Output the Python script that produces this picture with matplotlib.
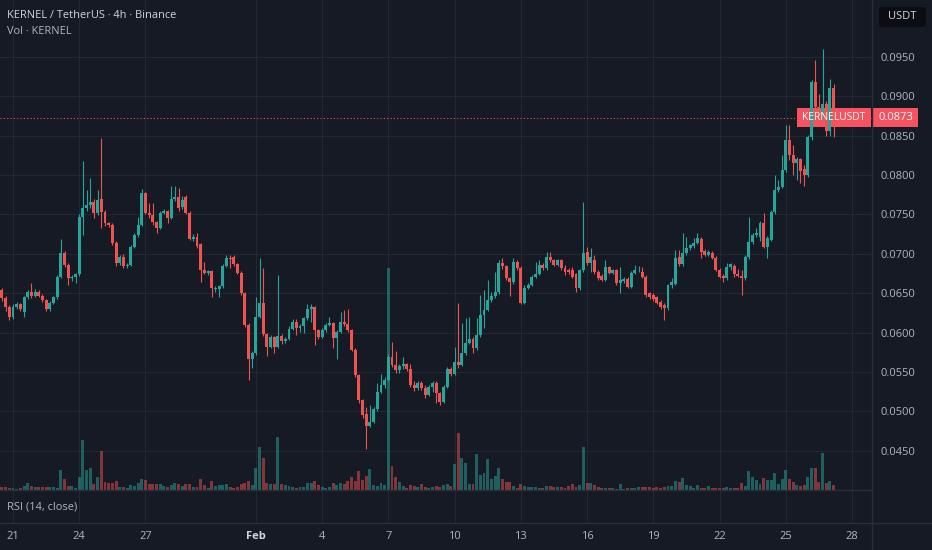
"""KERNEL / TetherUS 4h candlestick chart in TradingView dark style."""

import numpy as np
import pandas as pd
import matplotlib
matplotlib.use('Agg')
import matplotlib.pyplot as plt
import matplotlib.dates as mdates
from matplotlib.lines import Line2D
from matplotlib.patches import Rectangle, FancyBboxPatch
from matplotlib.transforms import blended_transform_factory

BG = '#161a25'
GRID = '#232733'
SEP = '#2a2e39'
UP = '#26a69a'
DOWN = '#ef5350'
LABEL_RED = '#f7525f'
TXT = '#d1d4dc'
MUTED = '#b2b5be'
FONT = 'Open Sans'

# prices in units of 0.0001 USDT, 4h candles starting 2026-01-20 12:00
OPEN = [
    654, 644, 633, 620, 633, 636, 626, 645, 652, 647,
    652, 647, 641, 630, 638, 645, 671, 701, 686, 669,
    670, 674, 747, 758, 762, 766, 752, 770, 753, 739,
    737, 714, 688, 696, 684, 686, 709, 724, 737, 777,
    752, 749, 740, 733, 752, 754, 746, 770, 772, 759,
    772, 752, 719, 721, 712, 680, 676, 678, 655, 655,
    659, 685, 695, 696, 687, 676, 650, 610, 566, 574,
    620, 638, 598, 582, 594, 582, 596, 589, 592, 605,
    614, 606, 608, 618, 630, 632, 603, 595, 603, 610,
    612, 593, 601, 614, 611, 603, 578, 546, 514, 496,
    482, 487, 503, 525, 533, 540, 569, 559, 552, 557,
    560, 554, 533, 529, 536, 529, 521, 531, 536, 523,
    512, 531, 554, 548, 563, 559, 574, 587, 592, 580,
    597, 622, 629, 641, 646, 651, 688, 684, 669, 664,
    690, 682, 638, 657, 661, 671, 675, 686, 682, 696,
    692, 686, 692, 682, 680, 680, 674, 656, 679, 702,
    688, 692, 677, 672, 667, 683, 676, 679, 663, 665,
    668, 658, 676, 679, 677, 671, 650, 648, 645, 639,
    635, 631, 660, 662, 696, 687, 701, 707, 710, 714,
    719, 704, 699, 701, 695, 680, 672, 669, 683, 684,
    675, 672, 669, 696, 715, 724, 722, 739, 709, 718,
    753, 781, 785, 806, 845, 826, 816, 820, 808, 800,
    848, 918, 886, 876, 890, 856, 911,
]
HIGH = [
    657, 646, 635, 636, 639, 638, 647, 654, 663, 655,
    654, 649, 643, 640, 647, 673, 719, 704, 688, 673,
    676, 750, 818, 781, 796, 770, 781, 847, 756, 741,
    739, 716, 699, 700, 689, 711, 727, 747, 782, 779,
    765, 765, 742, 755, 757, 756, 786, 786, 784, 773,
    775, 754, 725, 726, 714, 690, 680, 680, 659, 661,
    687, 699, 699, 698, 689, 678, 652, 612, 576, 645,
    695, 682, 600, 597, 596, 673, 598, 595, 608, 617,
    617, 611, 620, 636, 636, 634, 605, 606, 612, 620,
    614, 603, 626, 629, 630, 605, 580, 548, 516, 505,
    508, 506, 536, 548, 544, 573, 588, 577, 560, 569,
    562, 560, 538, 539, 538, 533, 534, 539, 538, 525,
    533, 556, 556, 582, 638, 612, 618, 620, 594, 619,
    648, 654, 667, 652, 677, 692, 695, 686, 671, 695,
    692, 684, 660, 663, 673, 690, 692, 688, 702, 702,
    694, 694, 694, 686, 682, 683, 676, 681, 766, 709,
    707, 698, 679, 674, 692, 685, 681, 681, 683, 671,
    670, 678, 686, 684, 683, 673, 652, 650, 647, 641,
    637, 662, 669, 705, 705, 726, 721, 713, 720, 726,
    722, 706, 705, 703, 697, 682, 674, 689, 689, 687,
    681, 679, 698, 747, 727, 733, 742, 752, 723, 756,
    800, 794, 826, 864, 864, 838, 823, 822, 813, 851,
    921, 946, 903, 960, 894, 922, 916,
]
LOW = [
    640, 628, 616, 617, 630, 627, 620, 643, 644, 645,
    645, 639, 627, 628, 636, 643, 669, 683, 660, 666,
    663, 672, 724, 755, 758, 745, 749, 733, 735, 734,
    711, 684, 686, 682, 682, 684, 707, 722, 735, 750,
    746, 737, 726, 731, 750, 739, 744, 767, 755, 757,
    750, 717, 716, 708, 664, 674, 673, 645, 652, 645,
    657, 683, 682, 685, 674, 648, 607, 540, 555, 572,
    618, 596, 570, 580, 574, 580, 586, 587, 590, 603,
    597, 601, 600, 616, 614, 584, 592, 593, 601, 608,
    580, 566, 599, 608, 601, 576, 544, 511, 492, 452,
    480, 485, 501, 523, 530, 538, 556, 549, 549, 554,
    551, 531, 526, 527, 527, 517, 519, 525, 511, 508,
    510, 529, 545, 546, 555, 557, 572, 585, 574, 578,
    595, 606, 627, 639, 644, 649, 681, 667, 646, 662,
    680, 636, 636, 655, 659, 669, 673, 680, 680, 690,
    684, 684, 680, 673, 675, 669, 652, 654, 677, 686,
    677, 675, 667, 665, 665, 674, 674, 661, 650, 663,
    656, 656, 674, 677, 669, 645, 643, 640, 636, 630,
    616, 629, 656, 660, 685, 685, 699, 705, 708, 712,
    695, 697, 697, 693, 678, 669, 664, 667, 679, 671,
    670, 648, 667, 694, 713, 722, 716, 707, 695, 716,
    751, 778, 783, 804, 819, 800, 794, 790, 786, 797,
    845, 880, 862, 870, 850, 850, 848,
]
CLOSE = [
    644, 633, 620, 633, 636, 630, 645, 651, 647, 652,
    647, 641, 630, 638, 645, 671, 701, 686, 669, 670,
    674, 747, 758, 762, 766, 752, 768, 753, 739, 737,
    714, 688, 696, 684, 686, 709, 724, 737, 777, 752,
    749, 740, 733, 752, 754, 746, 770, 772, 758, 769,
    752, 719, 721, 710, 680, 676, 678, 657, 657, 659,
    685, 695, 694, 687, 676, 650, 610, 566, 574, 620,
    638, 598, 582, 594, 582, 596, 589, 592, 605, 614,
    606, 608, 618, 630, 632, 603, 595, 603, 610, 612,
    593, 601, 614, 611, 603, 578, 546, 514, 495, 482,
    487, 503, 525, 533, 540, 569, 559, 552, 557, 560,
    554, 533, 529, 536, 529, 521, 531, 536, 523, 512,
    531, 554, 548, 563, 559, 574, 587, 592, 580, 597,
    622, 629, 641, 646, 651, 688, 684, 669, 664, 690,
    682, 638, 657, 661, 671, 675, 686, 682, 696, 692,
    686, 692, 682, 677, 677, 671, 656, 679, 701, 688,
    696, 677, 669, 667, 683, 676, 679, 663, 667, 668,
    658, 676, 679, 680, 671, 648, 645, 643, 638, 633,
    631, 660, 664, 695, 687, 701, 707, 711, 714, 720,
    702, 699, 702, 695, 680, 671, 669, 683, 687, 675,
    672, 669, 696, 715, 724, 726, 739, 709, 720, 753,
    781, 785, 806, 845, 826, 816, 820, 805, 800, 848,
    918, 886, 876, 890, 856, 911, 873,
]
# volume, thousand KERNEL
VOLUME = [
    3, 3, 2, 2, 1, 2, 4, 7, 4, 3,
    3, 3, 3, 3, 3, 2, 20, 11, 4, 4,
    2, 13, 50, 20, 22, 6, 13, 39, 8, 7,
    7, 9, 3, 3, 2, 5, 4, 7, 11, 10,
    6, 6, 6, 6, 4, 3, 5, 7, 6, 4,
    6, 6, 3, 3, 11, 5, 2, 9, 4, 5,
    5, 6, 3, 2, 3, 6, 7, 9, 5, 22,
    43, 32, 7, 6, 6, 53, 6, 5, 4, 3,
    2, 3, 3, 7, 7, 9, 5, 3, 2, 3,
    7, 5, 7, 6, 9, 13, 9, 19, 10, 14,
    21, 5, 4, 7, 5, 222, 24, 13, 8, 4,
    2, 5, 4, 3, 6, 3, 2, 3, 4, 3,
    5, 6, 4, 26, 57, 32, 27, 6, 6, 36,
    15, 17, 31, 11, 14, 22, 11, 8, 8, 4,
    2, 6, 4, 3, 3, 3, 2, 2, 4, 4,
    3, 3, 3, 2, 4, 6, 3, 5, 43, 7,
    7, 5, 3, 2, 2, 2, 2, 1, 6, 1,
    2, 2, 2, 3, 3, 3, 3, 2, 3, 2,
    3, 4, 4, 9, 8, 12, 5, 4, 2, 5,
    2, 2, 4, 2, 2, 2, 2, 3, 2, 2,
    2, 7, 4, 19, 13, 10, 6, 12, 10, 10,
    17, 6, 11, 20, 11, 8, 5, 4, 5, 13,
    22, 22, 8, 37, 7, 9, 5,
]
START = '2026-01-20 12:00'
LAST_PRICE = 0.0873
PRICE_TICKS = [0.045, 0.050, 0.055, 0.060, 0.065, 0.070, 0.075, 0.080, 0.085, 0.090, 0.095]
TICK_DATES = ['2026-01-21', '2026-01-24', '2026-01-27', '2026-02-01', '2026-02-04',
              '2026-02-07', '2026-02-10', '2026-02-13', '2026-02-16', '2026-02-19',
              '2026-02-22', '2026-02-25', '2026-02-28']
TICK_LABELS = ['21', '24', '27', 'Feb', '4', '7', '10', '13', '16', '19', '22', '25', '28']

W, H = 932, 550
FS = 8.0


def px_rect(x0, y0, x1, y1):
    """Pixel box (top-left origin) -> figure fraction [l, b, w, h]."""
    return [x0 / W, 1 - y1 / H, (x1 - x0) / W, (y1 - y0) / H]


def fy(y):
    return 1 - y / H


def main():
    plt.rcParams['font.family'] = [FONT, 'DejaVu Sans']
    fig = plt.figure(figsize=(W / 100, H / 100), dpi=100, facecolor=BG)

    o = np.array(OPEN) / 1e4
    h = np.array(HIGH) / 1e4
    l = np.array(LOW) / 1e4
    c = np.array(CLOSE) / 1e4
    t = mdates.date2num(pd.date_range(START, periods=len(CLOSE), freq='4h'))
    up = c >= o
    colors = np.where(up, UP, DOWN)
    w = 0.8 / 6

    ax_vol = fig.add_axes(px_rect(0, 0, 872, 490))
    ax = fig.add_axes(px_rect(0, 0, 872, 490), sharex=ax_vol)
    ax_rsi = fig.add_axes(px_rect(0, 490, 872, 523), sharex=ax_vol)
    ax.set_zorder(ax_vol.get_zorder() + 1)
    for a in (ax, ax_vol, ax_rsi):
        a.patch.set_visible(False)
        for s in a.spines.values():
            s.set_visible(False)

    x0 = mdates.date2num(pd.Timestamp(TICK_DATES[0]))
    px_day = (852 - 13) / 38
    ax.set_xlim(x0 - 13 / px_day, x0 + (872 - 13) / px_day)
    ax.set_ylim(0.045 - 39.3 / 7874, 0.095 + 57 / 7874)
    tick_nums = mdates.date2num(pd.to_datetime(TICK_DATES))

    # grid lives on the bottom layer so bars sit on top of it
    ax_vol.set_xticks(tick_nums)
    ax_vol.grid(True, axis='x', color=GRID, linewidth=0.8)
    price_tr = blended_transform_factory(ax_vol.transAxes, ax.transData)
    for p in PRICE_TICKS:
        ax_vol.add_line(Line2D([0, 1], [p, p], transform=price_tr, color=GRID, lw=0.8, zorder=0))

    # volume overlay
    vol_colors = [(0.149, 0.651, 0.604, 0.5) if u else (0.937, 0.325, 0.314, 0.5) for u in up]
    ax_vol.bar(t, VOLUME, width=w, color=vol_colors, linewidth=0, zorder=2)
    ax_vol.set_ylim(0, 490)
    ax_vol.set_yticks([])
    ax_vol.tick_params(axis='x', length=0, labelbottom=False)

    # candles
    ax.vlines(t, l, h, colors=colors, linewidth=0.8, zorder=3)
    ax.bar(t, np.maximum(np.abs(c - o), 0.00003), bottom=np.minimum(o, c), width=w,
           color=colors, linewidth=0, zorder=4)

    ax.yaxis.tick_right()
    ax.set_yticks(PRICE_TICKS)
    ax.set_yticklabels([f'{p:.4f}' for p in PRICE_TICKS], color=MUTED, fontsize=FS)
    ax.tick_params(axis='y', length=0, pad=6)
    ax.tick_params(axis='x', length=0, labelbottom=False)

    ax_rsi.grid(True, axis='x', color=GRID, linewidth=0.8)
    ax_rsi.set_yticks([])
    ax_rsi.set_xticks(tick_nums)
    ax_rsi.set_xticklabels(TICK_LABELS, color=MUTED, fontsize=FS)
    ax_rsi.tick_params(axis='x', length=0, pad=6)
    for lab in ax_rsi.get_xticklabels():
        if lab.get_text() == 'Feb':
            lab.set_fontweight('bold')
            lab.set_color(TXT)

    # last price line
    ax.axhline(LAST_PRICE, color=DOWN, linestyle=(0, (1, 2)), linewidth=0.8, zorder=2)

    # separators
    fig.add_artist(Line2D([0, 872 / W], [fy(490), fy(490)], color=SEP, lw=1))
    fig.add_artist(Line2D([0, 1], [fy(523), fy(523)], color=SEP, lw=1))
    fig.add_artist(Line2D([872 / W, 872 / W], [0, 1], color=SEP, lw=1))

    # price labels on the right
    fig.add_artist(Rectangle((797 / W, fy(127)), 74 / W, 19 / H, transform=fig.transFigure,
                             facecolor=LABEL_RED, edgecolor='none'))
    fig.text(834 / W, fy(117.5), 'KERNELUSDT', color='white', fontsize=7.4,
             ha='center', va='center')
    fig.add_artist(Rectangle((873 / W, fy(127)), 45 / W, 19 / H, transform=fig.transFigure,
                             facecolor=LABEL_RED, edgecolor='none'))
    fig.text(896 / W, fy(117.5), f'{LAST_PRICE:.4f}', color='white', fontsize=FS,
             ha='center', va='center')

    fig.add_artist(FancyBboxPatch((879 / W, fy(27)), 47 / W, 20 / H,
                                  boxstyle='round,pad=0,rounding_size=0.004',
                                  transform=fig.transFigure,
                                  facecolor='#0b0d13', edgecolor='none'))
    fig.text(902 / W, fy(16.5), 'USDT', color=TXT, fontsize=FS, ha='center', va='center')

    # legends
    fig.text(7 / W, fy(15), 'KERNEL / TetherUS · 4h · Binance', color=TXT, fontsize=7.9,
             ha='left', va='center')
    fig.text(7 / W, fy(32), 'Vol · KERNEL', color=MUTED, fontsize=7.9, ha='left', va='center')
    fig.text(7 / W, fy(507), 'RSI (14, close)', color=MUTED, fontsize=7.9,
             ha='left', va='center')

    fig.savefig('out.png', dpi=100, facecolor=BG)
    plt.close(fig)


if __name__ == '__main__':
    main()
